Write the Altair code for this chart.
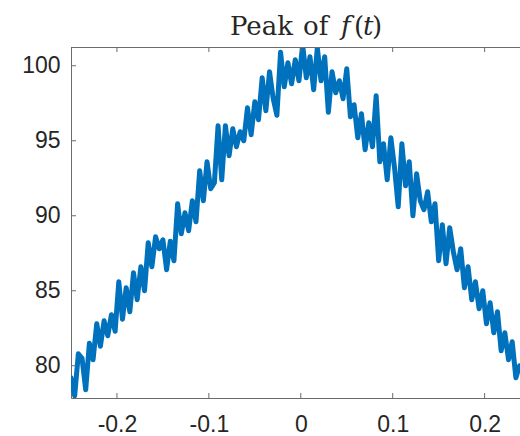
import altair as alt
import pandas as pd

# ---- data ----
x_start = -0.25
x_step = 0.004
peak = [
    79.2, 78.0, 80.8, 80.5, 78.4, 81.5, 80.4, 82.8, 81.3, 83.0,
    82.0, 83.4, 82.3, 85.6, 83.1, 85.2, 83.6, 86.2, 84.4, 86.6,
    85.0, 88.2, 86.6, 88.6, 87.8, 88.4, 86.4, 88.3, 87.0, 90.8,
    88.8, 90.2, 89.0, 91.0, 89.6, 93.0, 91.0, 93.6, 91.8, 92.2,
    96.0, 92.4, 96.0, 94.0, 95.8, 94.6, 95.6, 95.0, 97.2, 95.4,
    97.6, 96.4, 99.2, 97.0, 99.6, 97.8, 96.7, 100.9, 98.6, 100.2,
    98.8, 100.4, 99.0, 101.4, 99.2, 100.6, 98.4, 101.2, 99.0, 100.6,
    96.9, 99.6, 98.2, 99.0, 97.8, 99.8, 96.6, 97.4, 95.2, 96.8,
    94.4, 96.2, 94.6, 98.0, 93.6, 94.8, 92.4, 95.2, 93.2, 90.6,
    94.8, 92.0, 93.6, 90.0, 92.8, 91.0, 90.4, 91.6, 89.6, 90.8,
    87.0, 89.4, 86.8, 89.2, 87.6, 86.4, 87.8, 85.2, 86.6, 84.4,
    85.6, 83.8, 85.0, 82.8, 84.2, 82.2, 83.6, 81.0, 82.2, 80.4,
    81.6, 79.2, 80.0,
]
t_vals = [round(x_start + i * x_step, 4) for i in range(len(peak))]

x_ticks = [-0.2, -0.1, 0.0, 0.1, 0.2]
y_ticks = [80, 85, 90, 95, 100]
x_domain = [-0.25, 0.2385]
y_domain = [77.85, 101.25]

title_parts = ["Peak", "of", "f", "(", "t", ")"]
title_italic = [False, False, True, False, True, False]

W, H = 449, 351
AXIS_COLOR = "#6b6b6b"
TEXT_COLOR = "#262626"
LINE_COLOR = "#0072BD"

df = pd.DataFrame({"t": t_vals, "peak": peak})
xt = pd.DataFrame({"v": x_ticks})
yt = pd.DataFrame({"v": y_ticks})
one = pd.DataFrame({"k": [0]})

xscale = alt.Scale(domain=x_domain, nice=False, zero=False)
yscale = alt.Scale(domain=y_domain, nice=False, zero=False)

line = alt.Chart(df).mark_line(
    color=LINE_COLOR, strokeWidth=5, clip=True, strokeJoin="round", strokeCap="round"
).encode(
    x=alt.X("t:Q", scale=xscale, axis=alt.Axis(
        values=x_ticks, title=None, tickSize=0, labelPadding=15,
        labelExpr="toString(datum.value)", domainColor=AXIS_COLOR, grid=False,
        labelFont="Liberation Sans", labelFontSize=23, labelColor=TEXT_COLOR,
    )),
    y=alt.Y("peak:Q", scale=yscale, axis=alt.Axis(
        values=y_ticks, title=None, tickSize=0, labelPadding=11,
        domainColor=AXIS_COLOR, grid=False,
        labelFont="Liberation Sans", labelFontSize=23, labelColor=TEXT_COLOR,
    )),
)

top_border = alt.Chart(one).mark_rule(color=AXIS_COLOR, strokeWidth=1).encode(
    x=alt.value(0), x2=alt.value(W), y=alt.value(0.5)
)

bottom_ticks = alt.Chart(xt).mark_rule(color=AXIS_COLOR, strokeWidth=1).encode(
    x=alt.X("v:Q", scale=xscale), y=alt.value(H), y2=alt.value(H - 5)
)
top_ticks = alt.Chart(xt).mark_rule(color=AXIS_COLOR, strokeWidth=1).encode(
    x=alt.X("v:Q", scale=xscale), y=alt.value(0), y2=alt.value(5)
)
left_ticks = alt.Chart(yt).mark_rule(color=AXIS_COLOR, strokeWidth=1).encode(
    y=alt.Y("v:Q", scale=yscale), x=alt.value(0), x2=alt.value(5)
)

# title pieces (mixed upright / italic like LaTeX)
title_x = [159, 232, 270, 283, 292, 301]
title_layers = []
for txt, it, px in zip(title_parts, title_italic, title_x):
    title_layers.append(
        alt.Chart(one).mark_text(
            text=txt, font="DejaVu Serif", fontSize=26,
            fontStyle="italic" if it else "normal",
            align="left", baseline="alphabetic", color=TEXT_COLOR,
        ).encode(x=alt.value(px), y=alt.value(-12.5))
    )

chart = alt.layer(
    line, top_border, bottom_ticks, top_ticks, left_ticks, *title_layers
).properties(
    width=W, height=H,
    autosize=alt.AutoSizeParams(type="none"),
    padding={"left": 71, "top": 47, "right": 0, "bottom": 38},
).configure_view(stroke=None).configure(background="white")

chart.save("out.html", embed_options={"renderer": "svg", "actions": False})
